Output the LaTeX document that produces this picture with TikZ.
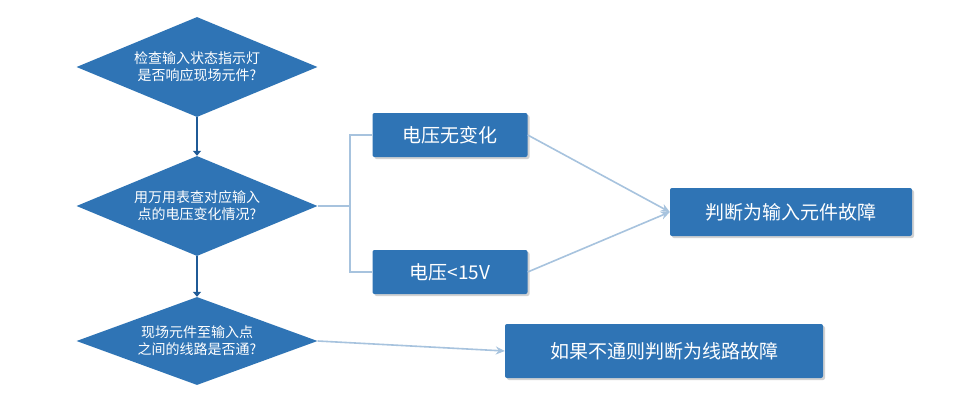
\documentclass[tikz,border=0pt]{standalone}
\usepackage{fontspec}
\setmainfont{Noto Sans CJK SC}
\usepackage{tikz}
\usetikzlibrary{shapes,arrows.meta,positioning,shadows}
\definecolor{boxblue}{HTML}{2F74B5}
\definecolor{linkblue}{HTML}{A7C3DE}
\definecolor{stepblue}{HTML}{1F5A96}
\tikzstyle{check}=[diamond,aspect=2.4,fill=boxblue,text=white,inner sep=1pt,minimum width=241pt,minimum height=100pt,align=center,font=\fontsize{14}{17}\selectfont]
\tikzstyle{result}=[rectangle,rounded corners=2pt,fill=boxblue,text=white,align=center,drop shadow={opacity=0.35,shadow xshift=2pt,shadow yshift=-2pt},font=\fontsize{19}{22}\selectfont]
\tikzstyle{steppath}=[draw=stepblue,line width=2.5pt,-{Triangle[length=5pt,width=8pt]}]
\tikzstyle{linkpath}=[draw=linkblue,line width=1.6pt]
\tikzstyle{linkarrow}=[linkpath,-{Stealth[length=9pt,width=8pt]}]
\begin{document}
\begin{tikzpicture}[x=1pt,y=-1pt]
		\useasboundingbox[fill=white] (0,0) rectangle (970,418);
		% checks
		\node[check] (q1) at (197,67) {检查输入状态指示灯\\是否响应现场元件?};
		\node[check] (q2) at (197,206) {用万用表查对应输入\\点的电压变化情况?};
		\node[check,minimum height=88pt] (q3) at (197,341) {现场元件至输入点\\之间的线路是否通?};

		% results
		\node[result,minimum width=155pt,minimum height=44pt] (nochg) at (450,135) {电压无变化};
		\node[result,minimum width=155pt,minimum height=44pt] (low) at (450,272) {电压<15V};
		\node[result,minimum width=242pt,minimum height=48pt] (fault) at (791,212) {判断为输入元件故障};
		\node[result,minimum width=318pt,minimum height=54pt] (line) at (664,351) {如果不通则判断为线路故障};

		\coordinate (fork) at (350,206);

		\draw[steppath] (q1) -- (q2);
		\draw[steppath] (q2) -- (q3);

		\draw[linkpath] (q2.east) -- (fork);
		\draw[linkpath] (nochg.west) -| (fork) |- (low.west);
		\draw[linkarrow] (nochg.east) -- (fault.west);
		\draw[linkarrow] (low.east) -- (fault.west);
		\draw[linkarrow] (q3.east) -- (line.west);
	\end{tikzpicture}
\end{document}
